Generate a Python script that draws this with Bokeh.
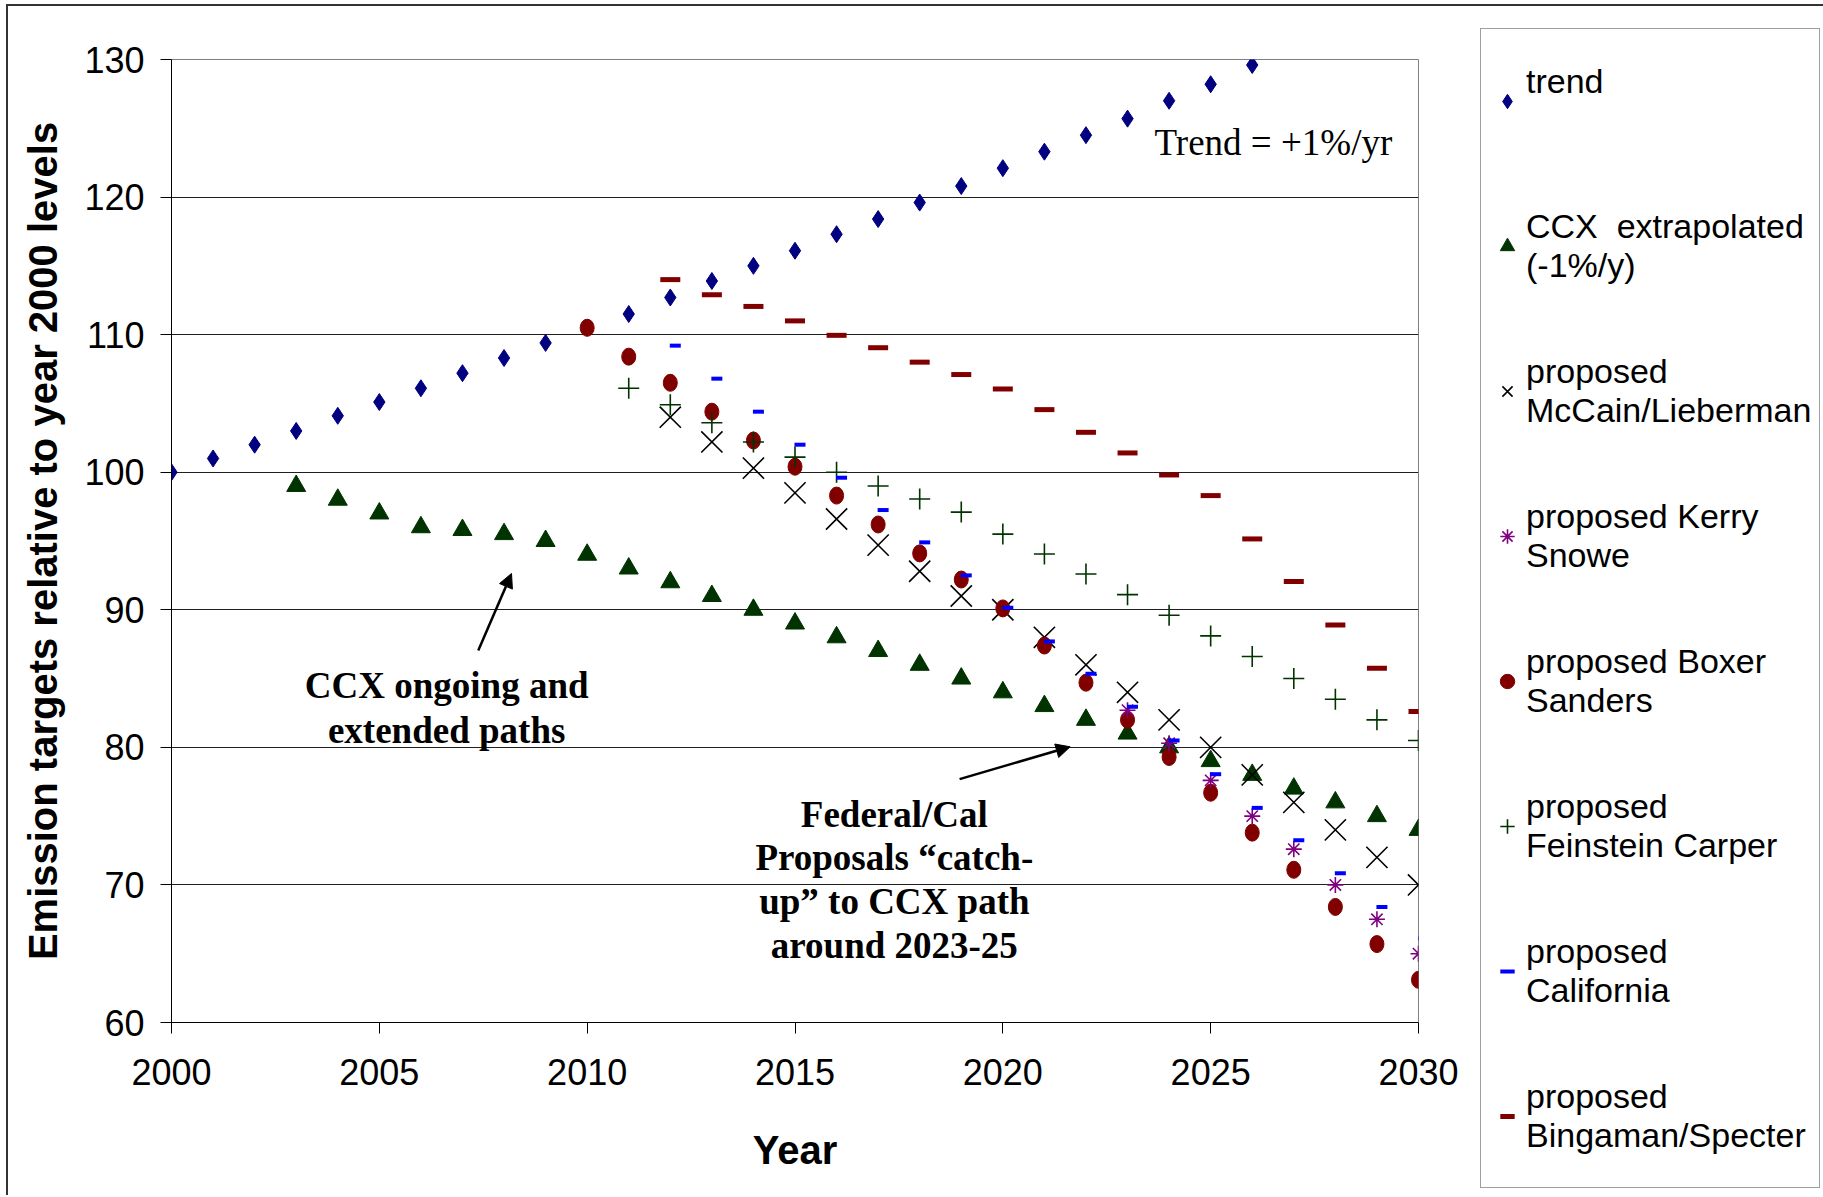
from bokeh.plotting import figure
from bokeh.models import (Legend, LegendItem, Label, Arrow, NormalHead, FixedTicker,
                          Range1d, ColumnDataSource)
from bokeh.transform import dodge
from bokeh.embed import file_html
from bokeh.resources import INLINE

# ---------------- data ----------------
trend_years = list(range(2000, 2027))
trend = [100.0, 101.0, 102.0, 103.0, 104.1, 105.1, 106.1, 107.2, 108.3, 109.4,
         110.5, 111.5, 112.7, 113.9, 115.0, 116.1, 117.3, 118.4, 119.6, 120.8,
         122.1, 123.3, 124.5, 125.7, 127.0, 128.2, 129.6]

ccx_years = list(range(2003, 2031))
ccx = [99.0, 98.0, 97.0, 96.0, 95.8, 95.5, 95.0, 94.0, 93.0, 92.0, 91.0, 90.0,
       89.0, 88.0, 87.0, 86.0, 85.0, 84.0, 83.0, 82.0, 81.0, 80.0, 79.0, 78.0,
       77.0, 76.0, 75.0, 74.0]

mccain_years = list(range(2012, 2031))
mccain = [104.0, 102.2, 100.3, 98.5, 96.6, 94.7, 92.8, 91.0, 90.0, 88.0, 86.0,
          84.0, 82.0, 80.0, 78.0, 76.0, 74.0, 72.0, 70.0]

kerry_years = list(range(2023, 2031))
kerry = [82.7, 80.3, 77.6, 75.0, 72.6, 70.0, 67.5, 65.0]

boxer_years = list(range(2010, 2031))
boxer = [110.5, 108.4, 106.5, 104.4, 102.3, 100.4, 98.3, 96.2, 94.1, 92.2, 90.1,
         87.4, 84.7, 82.0, 79.3, 76.7, 73.8, 71.1, 68.4, 65.7, 63.1]

feinstein_years = list(range(2011, 2031))
feinstein = [106.1, 104.9, 103.6, 102.2, 101.1, 100.0, 99.0, 98.05, 97.1, 95.5,
             94.05, 92.6, 91.1, 89.6, 88.1, 86.6, 85.0, 83.5, 82.0, 80.5]

california_years = list(range(2012, 2031))
california = [109.2, 106.8, 104.4, 102.0, 99.6, 97.25, 94.9, 92.5, 90.15, 87.7,
              85.35, 82.95, 80.5, 78.05, 75.6, 73.25, 70.85, 68.4, 66.1]

bingaman_years = list(range(2012, 2031))
bingaman = [114.0, 112.9, 112.05, 111.0, 109.95, 109.05, 108.0, 107.1, 106.05,
            104.55, 102.9, 101.4, 99.8, 98.3, 95.15, 92.05, 88.9, 85.75, 82.6]

x_ticks = [2000, 2005, 2010, 2015, 2020, 2025, 2030]
y_ticks = [60, 70, 80, 90, 100, 110, 120, 130]

legend_labels = ["trend\n ",
                 "CCX  extrapolated\n(-1%/y)",
                 "proposed\nMcCain/Lieberman",
                 "proposed Kerry\nSnowe",
                 "proposed Boxer\nSanders",
                 "proposed\nFeinstein Carper",
                 "proposed\nCalifornia",
                 "proposed\nBingaman/Specter"]

SANS = "Liberation Sans"
SERIF = "Liberation Serif"
NAVY, DKGREEN, PURPLE, DKRED, BLUE = "#000080", "#003300", "#800080", "#800000", "#0000FF"

# ---------------- main plot ----------------
p = figure(frame_width=1247, frame_height=963, output_backend="svg",
           toolbar_location=None,
           x_range=Range1d(2000, 2030), y_range=Range1d(60, 130),
           min_border_left=163, min_border_right=405, min_border_top=53,
           min_border_bottom=175)
# outer chart border (left / top edge) drawn around the plot element
p.styles = {"margin-left": "8px", "margin-top": "6px",
            "box-shadow": "-2px -2px 0px 0px #333333"}
p.background_fill_color = "white"
p.border_fill_color = "white"
p.outline_line_color = "#808080"
p.outline_line_width = 1

p.xaxis.ticker = FixedTicker(ticks=x_ticks)
p.yaxis.ticker = FixedTicker(ticks=y_ticks)
for ax in (p.xaxis[0], p.yaxis[0]):
    ax.minor_tick_line_color = None
    ax.major_tick_in = 0
    ax.major_tick_out = 11
    ax.axis_line_color = "black"
    ax.major_tick_line_color = "black"
    ax.major_label_text_font = SANS
    ax.major_label_text_font_size = "36px"
    ax.major_label_text_color = "black"
    ax.axis_label_text_font = SANS
    ax.axis_label_text_font_size = "40px"
    ax.axis_label_text_font_style = "bold"
    ax.axis_label_text_color = "black"
p.xaxis.axis_label = "Year"
p.yaxis.axis_label = "Emission targets relative to year 2000 levels"
p.xaxis.major_label_standoff = 25
p.yaxis.major_label_standoff = 16
p.xaxis.axis_label_standoff = 40
p.yaxis.axis_label_standoff = 16

p.xgrid.visible = False
p.ygrid.grid_line_color = "#202020"
p.ygrid.grid_line_width = 1

r_trend = p.scatter(trend_years, trend, marker="diamond", size=17,
                    fill_color=NAVY, line_color=NAVY)
r_ccx = p.scatter(ccx_years, ccx, marker="triangle", size=19,
                  fill_color=DKGREEN, line_color=DKGREEN)
r_mccain = p.scatter(mccain_years, mccain, marker="x", size=30,
                     line_color="black", line_width=1.6)
p.ellipse(boxer_years, boxer, width=14, height=17, width_units="screen",
          height_units="screen", fill_color=DKRED, line_color=DKRED)
r_kerry = p.scatter(kerry_years, kerry, marker="asterisk", size=16,
                    line_color=PURPLE, line_width=1.6)
r_fein = p.scatter(feinstein_years, feinstein, marker="cross", size=21,
                   line_color=DKGREEN, line_width=1.6)
cal_src = ColumnDataSource(data=dict(x=california_years, y=california))
r_cal = p.scatter(x=dodge("x", 0.12, range=p.x_range), y="y", source=cal_src,
                  marker="dash", size=11, line_color=BLUE, line_width=4)
r_bing = p.scatter(bingaman_years, bingaman, marker="dash", size=20,
                   line_color=DKRED, line_width=5)
# legend key for the Boxer/Sanders ellipses (round dot, nothing drawn in the plot)
r_boxer_key = p.scatter(x=[float("nan")], y=[float("nan")], marker="circle", size=15,
                        fill_color=DKRED, line_color=DKRED)

# ---------------- annotations ----------------
p.add_layout(Label(x=2023.65, y=124.0, text="Trend = +1%/yr", text_font=SERIF,
                   text_font_size="37px", text_align="left",
                   text_baseline="middle", text_color="black"))

ccx_note = [("CCX ongoing and", 84.50), ("extended paths", 81.25)]
for txt, yy in ccx_note:
    p.add_layout(Label(x=2006.62, y=yy, text=txt, text_font=SERIF,
                       text_font_size="37px", text_font_style="bold",
                       text_color="black",
                       text_align="center", text_baseline="middle"))

fed_note = [("Federal/Cal", 75.12), ("Proposals \u201ccatch-", 71.99),
            ("up\u201d to CCX path", 68.79), ("around 2023-25", 65.60)]
for txt, yy in fed_note:
    p.add_layout(Label(x=2017.39, y=yy, text=txt, text_font=SERIF,
                       text_font_size="37px", text_font_style="bold",
                       text_color="black",
                       text_align="center", text_baseline="middle"))

p.add_layout(Arrow(end=NormalHead(size=14, fill_color="black", line_color="black"),
                   x_start=2007.38, y_start=87.04, x_end=2008.18, y_end=92.64,
                   line_width=2.5, line_color="black"))
p.add_layout(Arrow(end=NormalHead(size=14, fill_color="black", line_color="black"),
                   x_start=2018.96, y_start=77.69, x_end=2021.62, y_end=80.04,
                   line_width=2.5, line_color="black"))

# ---------------- legend (right-hand panel) ----------------
key_renderers = [r_trend, r_ccx, r_mccain, r_kerry, r_boxer_key, r_fein, r_cal, r_bing]
items = [LegendItem(label=lab, renderers=[r]) for lab, r in zip(legend_labels, key_renderers)]
legend = Legend(items=items, location=(62, -166), orientation="vertical",
                label_text_font=SANS, label_text_font_size="34px",
                label_text_color="black", label_text_line_height=1.22,
                glyph_width=36, glyph_height=86, label_height=127,
                label_standoff=1, spacing=18, padding=8, margin=0,
                border_line_color="#404040", border_line_width=1,
                background_fill_color="white", background_fill_alpha=1.0)
p.add_layout(legend, "right")

open("out.html", "w").write(file_html(p, INLINE))
